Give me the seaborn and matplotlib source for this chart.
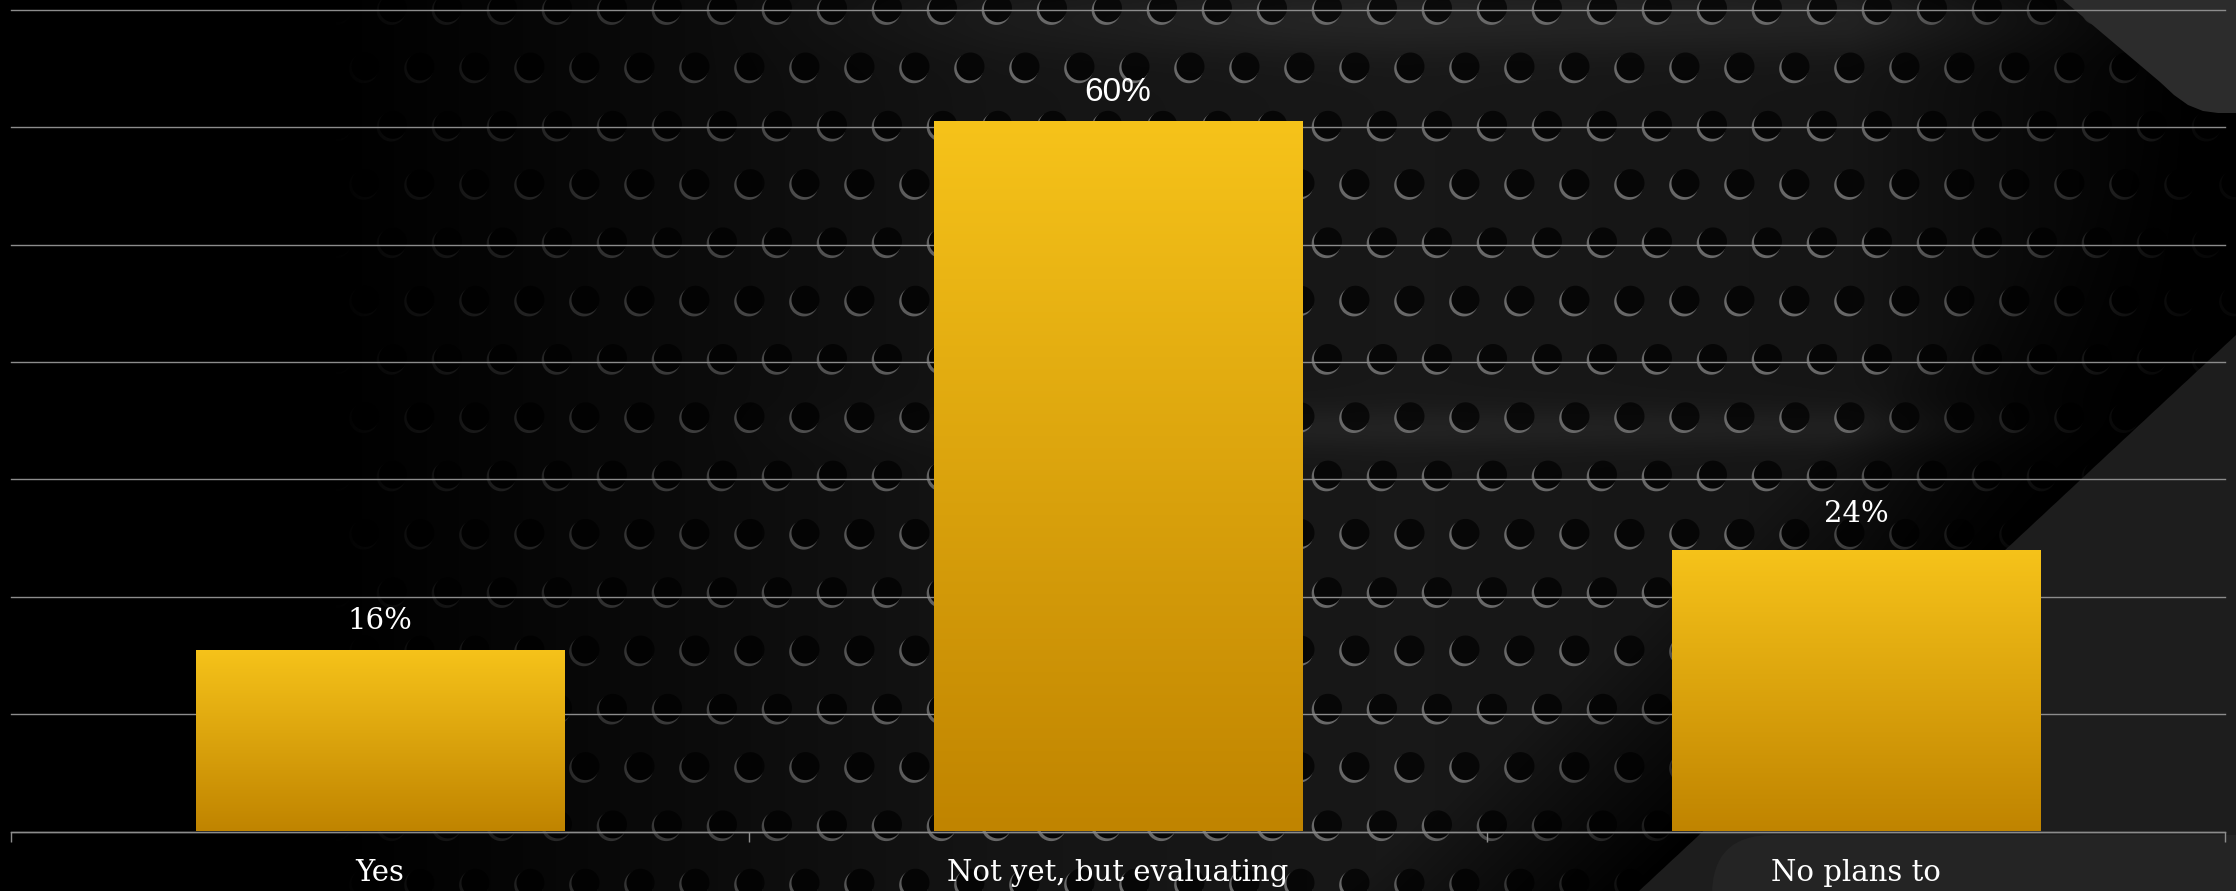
import numpy as np
import matplotlib
matplotlib.use("Agg")
import matplotlib.pyplot as plt
from matplotlib.colors import LinearSegmentedColormap
from matplotlib.patches import Polygon, FancyBboxPatch
import seaborn as sns

# chart data
categories = ["Yes", "Not yet, but evaluating", "No plans to"]
shares = [15.5, 60.5, 24.0]
share_labels = ["16%", "60%", "24%"]
label_fonts = ["DejaVu Serif", "Liberation Sans", "DejaVu Serif"]
label_sizes = [21, 24, 21]
label_offsets = [15, 15, 20]
y_gridlines = [0, 10, 20, 30, 40, 50, 60, 70]

W, H = 2236, 891
GRID_COL = "#8c8c8c"


def perforated_background():
    # dark metal plate with holes, built as a plain image
    yy, xx = np.mgrid[0:H, 0:W].astype(float)
    yy += 0.5
    xx += 0.5
    base = np.interp(xx, [0, 330, 700, 1000, 1400, 1800, 2236],
                     [0, 0, 0.045, 0.08, 0.095, 0.085, 0.07])
    ramp = np.clip((xx - 700) / 600, 0, 1)
    base += ramp * (0.05 * np.exp(-((yy - 20) / 35) ** 2)
                    + 0.04 * np.exp(-((yy - 428) / 22) ** 2))

    # diagonal shadow toward the lower right panel
    dist = ((xx - 2236) * 556 + (yy - 335) * 597) / 816
    sh = np.clip(-dist / 200, 0, 1) * np.clip((2200 - xx) / 350, 0, 1)
    lum = base * sh
    vis = np.clip((xx - 330) / 650, 0, 1) * sh

    # hexagonal hole pattern
    i = np.round((yy - 358) / 58.3)
    cy = 358 + 58.3 * i
    off = np.where(i % 2 != 0, 27.5, 0.0)
    k = np.round((xx - 1328 - off) / 55)
    cx = 1328 + off + 55 * k
    a_hole = np.clip(14.5 - np.hypot(xx - cx, yy - cy), 0, 1)
    a_rim = np.clip(15 - np.hypot(xx - cx + 1.8, yy - cy - 2.2), 0, 1)
    rim_col = 0.03 * np.clip((xx - 330) / 300, 0, 1) + 0.38 * vis
    hole_col = lum * 0.3
    lum = lum * (1 - a_rim) + rim_col * a_rim
    lum = lum * (1 - a_hole) + hole_col * a_hole

    g = np.clip(dist + 0.5, 0, 1)
    lum = lum * (1 - g) + 0.115 * g
    return np.clip(np.dstack([lum] * 3), 0, 1)


fig = plt.figure(figsize=(22.36, 8.91), dpi=100)
fig.patch.set_facecolor("black")

bg = fig.add_axes([0, 0, 1, 1], zorder=0)
bg.imshow(perforated_background(), extent=(0, W, H, 0), interpolation="bilinear")
bg.add_patch(Polygon([(2063, 0), (2160, 82), (2174, 95), (2188, 105), (2203, 111),
                      (2218, 113), (2236, 113), (2236, 0)],
                     closed=True, facecolor="#2c2c2c", edgecolor="none"))
bg.add_patch(FancyBboxPatch((1712, 835), 700, 200,
                            boxstyle="round,pad=0,rounding_size=60",
                            facecolor="#242424", edgecolor="none"))
bg.set_xlim(0, W)
bg.set_ylim(H, 0)
bg.axis("off")

ax = fig.add_axes([11 / W, (H - 831.5) / H, (2225 - 11) / W, 821.5 / H], zorder=1)
ax.patch.set_alpha(0)

sns.barplot(x=categories, y=shares, ax=ax, width=0.5, color="#E0A812",
            saturation=1, zorder=2)

# vertical gold gradient inside each bar
gold = LinearSegmentedColormap.from_list("gold", ["#C08400", "#F6C31A"])
grad = np.linspace(1, 0, 256)[:, None]
for p in ax.patches:
    x0, w, h = p.get_x(), p.get_width(), p.get_height()
    im = ax.imshow(grad, extent=[x0, x0 + w, 0, h], aspect="auto", cmap=gold,
                   vmin=0, vmax=1, zorder=2)
    im.set_clip_path(p)
    p.set_facecolor("none")
    p.set_edgecolor("none")

for i, v in enumerate(shares):
    ax.annotate(share_labels[i], (i, v), xytext=(0, label_offsets[i]),
                textcoords="offset points", ha="center", va="baseline",
                color="white", fontsize=label_sizes[i], family=label_fonts[i],
                zorder=3)

ax.set_xlim(-0.5, 2.5)
ax.set_ylim(0, 70)
ax.set_yticks(y_gridlines)
ax.yaxis.grid(True, color=GRID_COL, lw=1)
ax.set_axisbelow(True)
for line in ax.get_ygridlines():
    line.set_clip_on(False)
ax.tick_params(axis="y", left=False, labelleft=False)

ax.set_xticks([-0.5, 0.5, 1.5, 2.5], minor=True)
ax.tick_params(axis="x", which="minor", length=7, width=1, color=GRID_COL, direction="out")
ax.tick_params(axis="x", which="major", length=0, pad=20, labelsize=21, labelcolor="white")
for lbl in ax.get_xticklabels():
    lbl.set_fontfamily("DejaVu Serif")

for side in ["top", "left", "right"]:
    ax.spines[side].set_visible(False)
ax.spines["bottom"].set_color(GRID_COL)
ax.spines["bottom"].set_linewidth(1)
ax.set_xlabel("")
ax.set_ylabel("")

fig.savefig("out.png", dpi=100, facecolor="black")
